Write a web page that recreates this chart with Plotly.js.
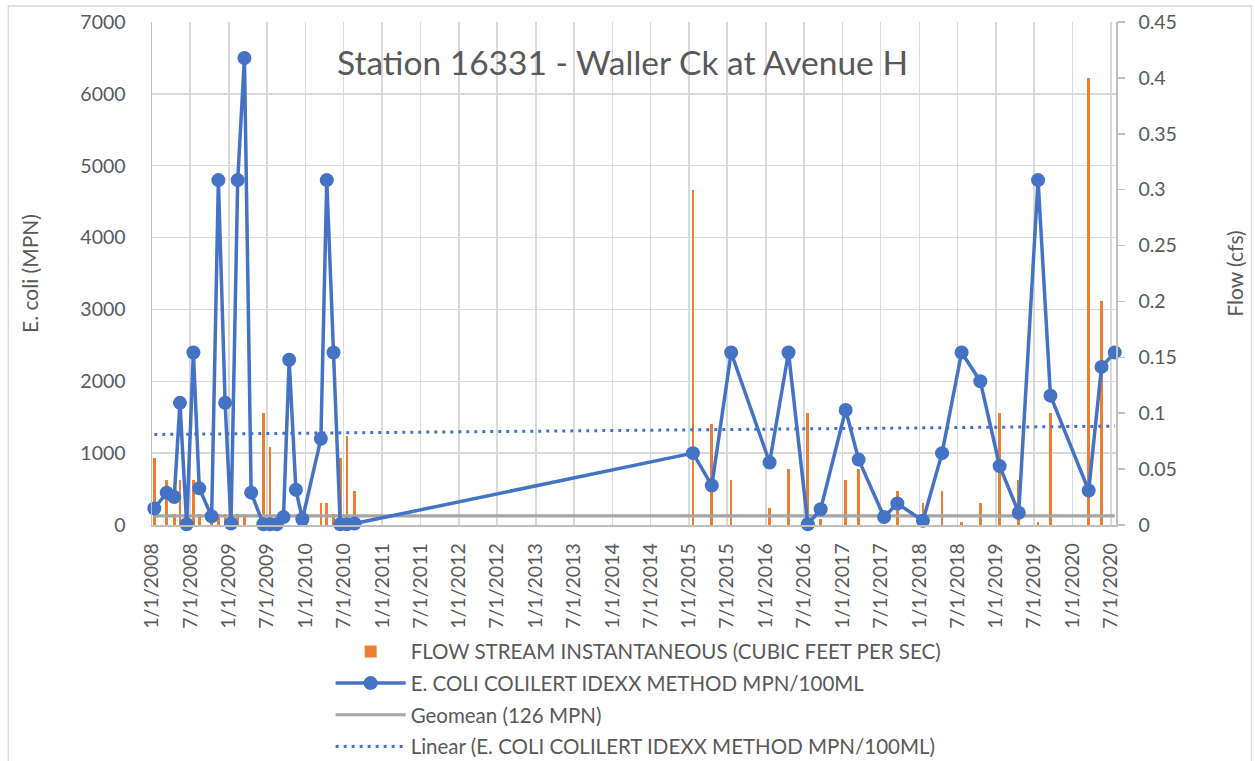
<!DOCTYPE html>
<html>
<head>
<meta charset="utf-8">
<script src="https://cdn.plot.ly/plotly-3.0.1.min.js"></script>
<style>
  html, body { margin: 0; padding: 0; background: #ffffff; }
  #chart { width: 1255px; height: 761px; }
</style>
</head>
<body>
<div id="chart"></div>
<script>
// ---- Data ----
const sampleDates = [
  '2008-01-12','2008-03-11','2008-04-16','2008-05-13','2008-06-14','2008-07-16','2008-08-13',
  '2008-10-11','2008-11-12','2008-12-14','2009-01-11','2009-02-12','2009-03-16','2009-04-17',
  '2009-06-14','2009-07-16','2009-08-17','2009-09-18','2009-10-15','2009-11-16','2009-12-17',
  '2010-03-15','2010-04-12','2010-05-14','2010-06-15','2010-07-17','2010-08-22',
  '2015-01-19','2015-04-19','2015-07-20','2016-01-19','2016-04-18','2016-07-19','2016-09-18',
  '2017-01-15','2017-03-18','2017-07-17','2017-09-18','2018-01-18','2018-04-19','2018-07-21',
  '2018-10-18','2019-01-18','2019-04-19','2019-07-20','2019-09-17','2020-03-17','2020-05-17',
  '2020-07-19'
];
const ecoliValues = [
  230, 450, 390, 1700, 10, 2400, 510,
  120, 4800, 1700, 20, 4800, 6500, 450,
  10, 10, 10, 110, 2300, 490, 80,
  1200, 4800, 2400, 10, 10, 20,
  1000, 550, 2400, 870, 2400, 10, 220,
  1600, 910, 110, 300, 60, 1000, 2400,
  2000, 820, 170, 4800, 1800, 480, 2200,
  2400
];
const flowValues = [
  0.06, 0.04, 0.01, 0.04, null, 0.04, 0.01,
  0.01, 0.01, 0.01, null, 0.01, 0.01, null,
  0.10, 0.07, null, null, null, null, null,
  0.02, 0.02, 0.01, 0.06, 0.08, 0.03,
  0.30, 0.09, 0.04, 0.015, 0.05, 0.10, 0.005,
  0.04, 0.05, null, 0.03, 0.02, 0.03, 0.003,
  0.02, 0.10, 0.04, 0.003, 0.10, 0.40, 0.20,
  null
];
const geomeanValue = 126;
const trendValues = [1260, 1375];   // dotted linear trend at first and last sample

const xTickStart = '2008-01-01';
const xRange = ['2008-01-01', '2020-07-25'];

const legendNames = [
  'FLOW STREAM INSTANTANEOUS (CUBIC FEET PER SEC)',
  'E. COLI COLILERT IDEXX METHOD MPN/100ML',
  'Geomean (126 MPN)',
  'Linear (E. COLI COLILERT IDEXX METHOD MPN/100ML)'
];

// ---- Styles ----
const TXT = '#595959';
const GRID = '#D9D9D9';
const AXL = '#BFBFBF';
const FONT = 'Lato, "Open Sans", sans-serif';

const firstDate = sampleDates[0];
const lastDate = sampleDates[sampleDates.length - 1];

const traces = [
  {
    type: 'bar', name: legendNames[0], x: sampleDates, y: flowValues,
    yaxis: 'y', marker: { color: '#ED7D31', line: { width: 0 } },
    width: 1.1e9, legendrank: 1, legendgroup: 'g1', hoverinfo: 'x+y'
  },
  {
    type: 'scatter', mode: 'lines', name: legendNames[2],
    x: [firstDate, lastDate], y: [geomeanValue, geomeanValue],
    yaxis: 'y2', line: { color: '#A5A5A5', width: 3.2 }, legendrank: 3, legendgroup: 'g3'
  },
  {
    type: 'scatter', mode: 'lines', name: legendNames[3],
    x: [firstDate, lastDate], y: trendValues,
    yaxis: 'y2', line: { color: '#4472C4', width: 3, dash: '3px,5px' }, legendrank: 4, legendgroup: 'g4'
  },
  {
    type: 'scatter', mode: 'lines+markers', name: legendNames[1],
    x: sampleDates, y: ecoliValues, yaxis: 'y2', cliponaxis: false,
    line: { color: '#4472C4', width: 3.5 },
    marker: { color: '#4472C4', size: 14 }, legendrank: 2, legendgroup: 'g2'
  }
];

// plot area in pixels: x 152..1115.7, y 22..525
const layout = {
  width: 1255, height: 761,
  margin: { l: 152, r: 139, t: 22, b: 236, pad: 0, autoexpand: false },
  paper_bgcolor: '#ffffff', plot_bgcolor: '#ffffff',
  font: { family: FONT, color: TXT, size: 18 },
  showlegend: true,
  title: {
    text: 'Station 16331 - Waller Ck at Avenue H',
    font: { family: FONT, size: 33.5, color: TXT },
    xref: 'container', x: 0.496, xanchor: 'center',
    yref: 'container', y: 0.917, yanchor: 'middle'
  },
  xaxis: {
    type: 'date', range: xRange, tick0: xTickStart, dtick: 'M6',
    tickformat: '%-m/%-d/%Y', tickangle: -90,
    tickfont: { family: FONT, size: 19.5, color: TXT },
    showgrid: true, gridcolor: GRID, gridwidth: 1.5,
    showline: true, linecolor: AXL, linewidth: 1.5,
    ticks: '', ticklabelstandoff: 9, zeroline: false, automargin: false
  },
  yaxis: {
    side: 'right', range: [0, 0.45], dtick: 0.05, tick0: 0,
    showgrid: false, zeroline: false, automargin: false,
    showline: true, linecolor: AXL, linewidth: 1.5,
    ticks: 'outside', ticklen: 7, tickcolor: AXL, tickwidth: 1.5,
    ticklabelstandoff: 10,
    tickfont: { family: FONT, size: 19.5, color: TXT },
    title: { text: 'Flow (cfs)', font: { family: FONT, size: 21, color: TXT }, standoff: 52 }
  },
  yaxis2: {
    overlaying: 'y', side: 'left', range: [0, 7000], dtick: 1000, tick0: 0,
    tickformat: 'd', automargin: false,
    showgrid: true, gridcolor: GRID, gridwidth: 1.5, zeroline: false,
    showline: true, linecolor: AXL, linewidth: 1.5,
    ticks: '', ticklabelstandoff: 21,
    tickfont: { family: FONT, size: 19.5, color: TXT },
    title: { text: 'E. coli (MPN)', font: { family: FONT, size: 21, color: TXT }, standoff: 36 }
  },
  legend: {
    orientation: 'v', x: 0.1853, xanchor: 'left', y: -0.212, yanchor: 'top',
    font: { family: FONT, size: 20.5, color: TXT },
    bgcolor: 'rgba(0,0,0,0)', itemwidth: 70, tracegroupgap: 2,
    traceorder: 'grouped'
  },
  shapes: [
    // white box behind the title (covers gridlines only)
    { type: 'rect', xref: 'x', yref: 'y', layer: 'below',
      x0: '2010-04-18', x1: '2017-12-27', y0: 0.392, y1: 0.441,
      fillcolor: '#ffffff', line: { width: 0 } },
    // chart-area border
    { type: 'rect', xref: 'paper', yref: 'paper', layer: 'above',
      x0: -0.149, x1: 1.1405, y0: -0.49, y1: 1.0318,
      fillcolor: 'rgba(0,0,0,0)', line: { color: GRID, width: 1.5 } }
  ],
  bargap: 0
};

Plotly.newPlot('chart', traces, layout, { displayModeBar: false, staticPlot: true });
</script>
</body>
</html>
